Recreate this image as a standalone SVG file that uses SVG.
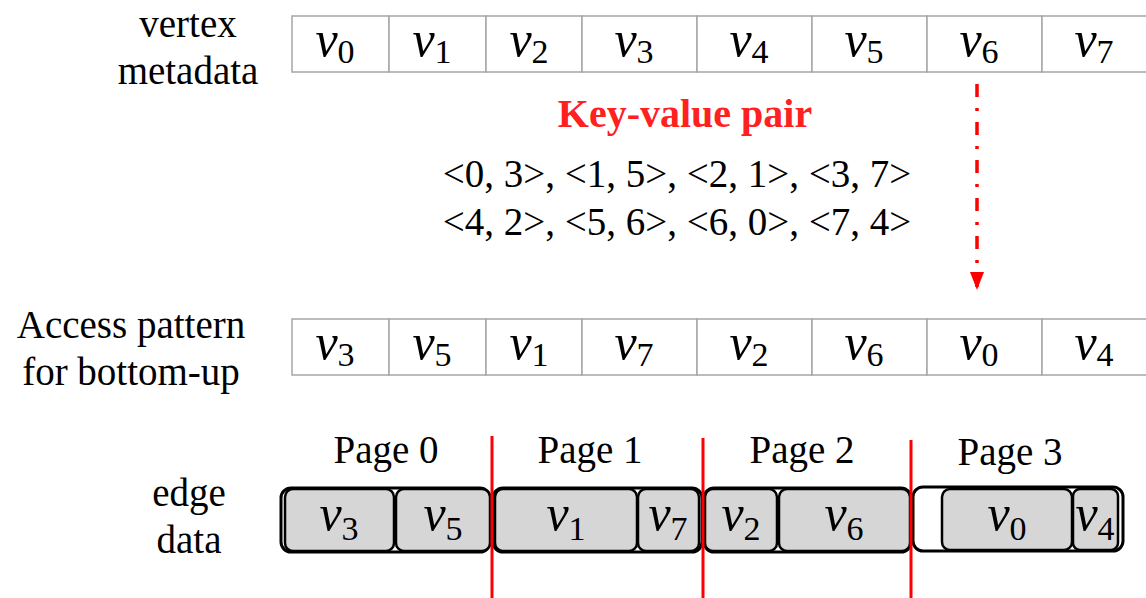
<svg xmlns="http://www.w3.org/2000/svg" width="1146" height="598" viewBox="0 0 1146 598">
<style>
.lbl{font-family:"Liberation Serif","Times New Roman",serif;font-size:39px;fill:#000;text-anchor:middle}
.cell{fill:#fff;stroke:#a6a6a6;stroke-width:1.5}
.v{font-family:"Liberation Serif","Times New Roman",serif;font-style:italic;font-size:50px;fill:#000;text-anchor:middle}
.s{font-style:normal;font-size:34px}
.outer{fill:#fff;stroke:#000;stroke-width:3}
.blk{fill:#d7d6d7;stroke:#000;stroke-width:2.5}
.sep{stroke:#ff0000;stroke-width:3}
</style>
<defs>
<marker id="ah" viewBox="0 0 18 14" refX="18" refY="7" markerWidth="18" markerHeight="14" markerUnits="userSpaceOnUse" orient="auto">
<path d="M0 0 L18 7 L0 14 Z" fill="#ff0000"/>
</marker>
</defs>
<g id="labels">
<text class="lbl" x="188" y="37">vertex</text>
<text class="lbl" x="188" y="84">metadata</text>
<text class="lbl" x="131" y="338">Access pattern</text>
<text class="lbl" x="131" y="385">for bottom-up</text>
<text class="lbl" x="189" y="506">edge</text>
<text class="lbl" x="189" y="553">data</text>
</g>
<g id="vertex-metadata">
<rect class="cell" x="292" y="16" width="97" height="56"/>
<rect class="cell" x="389" y="16" width="97" height="56"/>
<rect class="cell" x="486" y="16" width="96" height="56"/>
<rect class="cell" x="582" y="16" width="115" height="56"/>
<rect class="cell" x="697" y="16" width="115" height="56"/>
<rect class="cell" x="812" y="16" width="115" height="56"/>
<rect class="cell" x="927" y="16" width="115" height="56"/>
<rect class="cell" x="1042" y="16" width="110" height="56"/>
<text class="v" x="335" y="56">v<tspan class="s" dy="7">0</tspan></text>
<text class="v" x="432" y="56">v<tspan class="s" dy="7">1</tspan></text>
<text class="v" x="529" y="56">v<tspan class="s" dy="7">2</tspan></text>
<text class="v" x="634" y="56">v<tspan class="s" dy="7">3</tspan></text>
<text class="v" x="749" y="56">v<tspan class="s" dy="7">4</tspan></text>
<text class="v" x="864" y="56">v<tspan class="s" dy="7">5</tspan></text>
<text class="v" x="979" y="56">v<tspan class="s" dy="7">6</tspan></text>
<text class="v" x="1094" y="56">v<tspan class="s" dy="7">7</tspan></text>
</g>
<g id="key-value">
<text x="685" y="127" style="font-family:'Liberation Serif','Times New Roman',serif;font-weight:bold;font-size:40px;fill:#ff2020;text-anchor:middle">Key-value pair</text>
<text class="lbl" x="677" y="187">&lt;0, 3&gt;, &lt;1, 5&gt;, &lt;2, 1&gt;, &lt;3, 7&gt;</text>
<text class="lbl" x="677" y="235">&lt;4, 2&gt;, &lt;5, 6&gt;, &lt;6, 0&gt;, &lt;7, 4&gt;</text>
</g>
<g id="access-pattern">
<rect class="cell" x="292" y="319" width="97" height="56"/>
<rect class="cell" x="389" y="319" width="97" height="56"/>
<rect class="cell" x="486" y="319" width="96" height="56"/>
<rect class="cell" x="582" y="319" width="115" height="56"/>
<rect class="cell" x="697" y="319" width="115" height="56"/>
<rect class="cell" x="812" y="319" width="115" height="56"/>
<rect class="cell" x="927" y="319" width="115" height="56"/>
<rect class="cell" x="1042" y="319" width="110" height="56"/>
<text class="v" x="335" y="359">v<tspan class="s" dy="7">3</tspan></text>
<text class="v" x="432" y="359">v<tspan class="s" dy="7">5</tspan></text>
<text class="v" x="529" y="359">v<tspan class="s" dy="7">1</tspan></text>
<text class="v" x="634" y="359">v<tspan class="s" dy="7">7</tspan></text>
<text class="v" x="749" y="359">v<tspan class="s" dy="7">2</tspan></text>
<text class="v" x="864" y="359">v<tspan class="s" dy="7">6</tspan></text>
<text class="v" x="979" y="359">v<tspan class="s" dy="7">0</tspan></text>
<text class="v" x="1094" y="359">v<tspan class="s" dy="7">4</tspan></text>
</g>
<g id="page0">
<text class="lbl" x="386" y="463">Page 0</text>
<rect class="outer" x="281" y="488" width="209" height="64" rx="10"/>
<rect class="blk" x="285" y="489" width="109" height="62" rx="8"/>
<rect class="blk" x="396" y="489" width="94" height="62" rx="8"/>
<text class="v" x="339" y="530">v<tspan class="s" dy="10">3</tspan></text>
<text class="v" x="443" y="530">v<tspan class="s" dy="10">5</tspan></text>
</g>
<g id="page1">
<text class="lbl" x="590" y="463">Page 1</text>
<rect class="outer" x="493" y="488" width="209" height="64" rx="10"/>
<rect class="blk" x="495" y="489" width="142" height="62" rx="8"/>
<rect class="blk" x="638" y="489" width="61" height="62" rx="8"/>
<text class="v" x="566" y="530">v<tspan class="s" dy="10">1</tspan></text>
<text class="v" x="668" y="530">v<tspan class="s" dy="10">7</tspan></text>
</g>
<g id="page2">
<text class="lbl" x="802" y="463">Page 2</text>
<rect class="outer" x="704" y="488" width="207" height="64" rx="10"/>
<rect class="blk" x="705" y="489" width="72" height="62" rx="8"/>
<rect class="blk" x="779" y="489" width="131" height="62" rx="8"/>
<text class="v" x="741" y="530">v<tspan class="s" dy="10">2</tspan></text>
<text class="v" x="844" y="530">v<tspan class="s" dy="10">6</tspan></text>
</g>
<g id="page3">
<text class="lbl" x="1010" y="465">Page 3</text>
<rect class="outer" x="913" y="487" width="210" height="64" rx="10"/>
<rect class="blk" x="942" y="489" width="130" height="61" rx="8"/>
<rect class="blk" x="1073" y="489" width="45" height="61" rx="7"/>
<text class="v" x="1007" y="530">v<tspan class="s" dy="10">0</tspan></text>
<text class="v" x="1095" y="530">v<tspan class="s" dy="10">4</tspan></text>
</g>
<g id="connectors">
<line class="sep" x1="492" y1="436" x2="492" y2="598"/>
<line class="sep" x1="703" y1="438" x2="703" y2="598"/>
<line class="sep" x1="911" y1="440" x2="911" y2="598"/>
<line x1="977" y1="84" x2="977" y2="290" stroke="#ff0000" stroke-width="3.5" stroke-dasharray="13 11 3 11" marker-end="url(#ah)"/>
</g>
</svg>
